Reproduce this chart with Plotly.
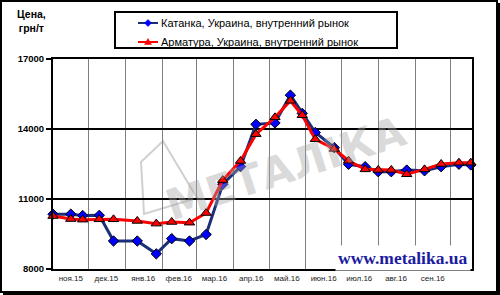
import plotly.graph_objects as go

dates = ["2015-11-01", "2015-11-16", "2015-11-26", "2015-12-10", "2015-12-22",
         "2016-01-11", "2016-01-27", "2016-02-09", "2016-02-24", "2016-03-09",
         "2016-03-23", "2016-04-07", "2016-04-20", "2016-05-06", "2016-05-19",
         "2016-05-29", "2016-06-09", "2016-06-25", "2016-07-07", "2016-07-21",
         "2016-08-01", "2016-08-12", "2016-08-25", "2016-09-09", "2016-09-23",
         "2016-10-08", "2016-10-18"]

katanka = [10350, 10350, 10290, 10300, 9200, 9200, 8650, 9300, 9200, 9480,
           11630, 12390, 14200, 14260, 15450, 14670, 13850, 13200, 12490, 12385,
           12170, 12170, 12240, 12210, 12385, 12490, 12460]

armatura = [10270, 10140, 10115, 10130, 10130, 10060, 9945, 10015, 9985, 10400,
            11810, 12630, 13780, 14500, 15210, 14590, 13560, 13145, 12640, 12270,
            12245, 12245, 12060, 12270, 12500, 12555, 12555]

series_names = ["Катанка, Украина, внутренний рынок",
                "Арматура, Украина, внутренний рынок"]

month_mid = ["2015-11-16", "2015-12-16", "2016-01-16", "2016-02-15", "2016-03-16",
             "2016-04-16", "2016-05-16", "2016-06-16", "2016-07-16", "2016-08-16",
             "2016-09-16"]
month_labels = ["ноя.15", "дек.15", "янв.16", "фев.16", "мар.16", "апр.16",
                "май.16", "июн.16", "июл.16", "авг.16", "сен.16"]
month_starts = ["2015-12-01", "2016-01-01", "2016-02-01", "2016-03-01", "2016-04-01",
                "2016-05-01", "2016-06-01", "2016-07-01", "2016-08-01", "2016-09-01",
                "2016-10-01"]
y_ticks = [8000, 11000, 14000, 17000]

W, H = 500, 295
L, R, T, B = 53, 28, 59, 26
PW, PH = W - L - R, H - T - B


def px(x):
    return (x - L) / PW


def py(y):
    return (H - B - y) / PH


def path(points):
    return "M " + " L ".join("{:.5f} {:.5f}".format(px(a), py(b)) for a, b in points) + " Z"


FONT = "Liberation Sans, Arial, sans-serif"
COLORS = ["#1a2f78", "#ff0000"]
MARKER_COLORS = ["#0000ff", "#ff0000"]

fig = go.Figure()
fig.add_trace(go.Scatter(
    x=dates, y=katanka, name=series_names[0], mode="lines+markers",
    line=dict(color=COLORS[0], width=3),
    marker=dict(symbol="diamond", size=8, color=MARKER_COLORS[0],
                line=dict(color="black", width=1)),
    cliponaxis=False, showlegend=False))
fig.add_trace(go.Scatter(
    x=dates, y=armatura, name=series_names[1], mode="lines+markers",
    line=dict(color=COLORS[1], width=3),
    marker=dict(symbol="triangle-up", size=9, color=MARKER_COLORS[1],
                line=dict(color="black", width=1)),
    cliponaxis=False, showlegend=False))

ROW_Y = [23, 42]
shapes = [
    # outer frame
    dict(type="rect", xref="paper", yref="paper",
         x0=px(1), x1=px(497), y0=py(292), y1=py(1),
         line=dict(color="black", width=2)),
    dict(type="rect", xref="paper", yref="paper",
         x0=px(496), x1=px(500), y0=py(295), y1=py(3),
         line=dict(width=0), fillcolor="black"),
    dict(type="rect", xref="paper", yref="paper",
         x0=px(3), x1=px(500), y0=py(295), y1=py(291),
         line=dict(width=0), fillcolor="black"),
    # legend box
    dict(type="rect", xref="paper", yref="paper",
         x0=px(115), x1=px(397), y0=py(48), y1=py(12),
         line=dict(color="black", width=2), fillcolor="white", layer="below"),
    # watermark icon
    dict(type="path", xref="paper", yref="paper", layer="below",
         path=path([(141, 162), (163, 141), (197, 198), (144, 214)]),
         line=dict(color="rgba(170,170,170,0.55)", width=2)),
]
# legend samples
for i, yy in enumerate(ROW_Y):
    shapes.append(dict(type="line", xref="paper", yref="paper",
                       x0=px(138), x1=px(158), y0=py(yy), y1=py(yy),
                       line=dict(color=COLORS[i], width=2)))
shapes.append(dict(type="path", xref="paper", yref="paper",
                   path=path([(148, ROW_Y[0] - 3.5), (151.5, ROW_Y[0]),
                              (148, ROW_Y[0] + 3.5), (144.5, ROW_Y[0])]),
                   fillcolor=MARKER_COLORS[0], line=dict(color=MARKER_COLORS[0], width=0.5)))
shapes.append(dict(type="path", xref="paper", yref="paper",
                   path=path([(148, ROW_Y[1] - 3.5), (151.5, ROW_Y[1] + 2.5),
                              (144.5, ROW_Y[1] + 2.5)]),
                   fillcolor=MARKER_COLORS[1], line=dict(color=MARKER_COLORS[1], width=0.5)))

annotations = [
    dict(text="Цена,<br>грн/т", xref="paper", yref="paper", x=px(31), y=py(21.5),
         xanchor="center", yanchor="middle", showarrow=False,
         font=dict(family=FONT, size=10.5, color="black", weight="bold")),
    dict(text="www.metalika.ua", xref="paper", yref="paper", x=px(471), y=py(258),
         xanchor="right", yanchor="middle", showarrow=False, bgcolor="white",
         borderpad=2,
         font=dict(family="Liberation Serif, Times New Roman, serif", size=17.5,
                   color="#1c1ca0", weight="bold")),
    dict(text="МЕТАЛІКА", xref="paper", yref="paper", x=px(285), y=py(168),
         xanchor="center", yanchor="middle", showarrow=False, textangle=-18,
         font=dict(family="DejaVu Sans, sans-serif", size=42,
                   color="rgba(165,165,165,0.42)", weight="bold")),
]
for i, yy in enumerate(ROW_Y):
    annotations.append(dict(text=series_names[i], xref="paper", yref="paper",
                            x=px(159), y=py(yy), xanchor="left", yanchor="middle",
                            showarrow=False,
                            font=dict(family=FONT, size=11, color="black")))

fig.update_layout(
    width=W, height=H,
    margin=dict(l=L, r=R, t=T, b=B, pad=0),
    paper_bgcolor="white", plot_bgcolor="white",
    font=dict(family=FONT, color="black"),
    showlegend=False,
    shapes=shapes,
    annotations=annotations,
    xaxis=dict(type="date", range=["2015-11-01", "2016-10-19"],
               tickmode="array", tickvals=month_mid, ticktext=month_labels,
               ticks="", showgrid=False, zeroline=False,
               tickfont=dict(family=FONT, size=8, color="#222"),
               minor=dict(tickmode="array", tickvals=month_starts, showgrid=True,
                          gridcolor="#7f7f7f", gridwidth=1, ticks=""),
               showline=True, mirror=True, linecolor="black", linewidth=2),
    yaxis=dict(range=[8000, 17000], tickmode="array", tickvals=y_ticks,
               ticktext=[str(v) for v in y_ticks],
               showgrid=True, gridcolor="black", gridwidth=1.5, zeroline=False,
               ticks="outside", ticklen=5, tickcolor="black", tickwidth=1.5,
               tickfont=dict(family=FONT, size=9.5, color="black", weight="bold"),
               showline=True, mirror=True, linecolor="black", linewidth=2),
)

fig.write_html("out.html")
